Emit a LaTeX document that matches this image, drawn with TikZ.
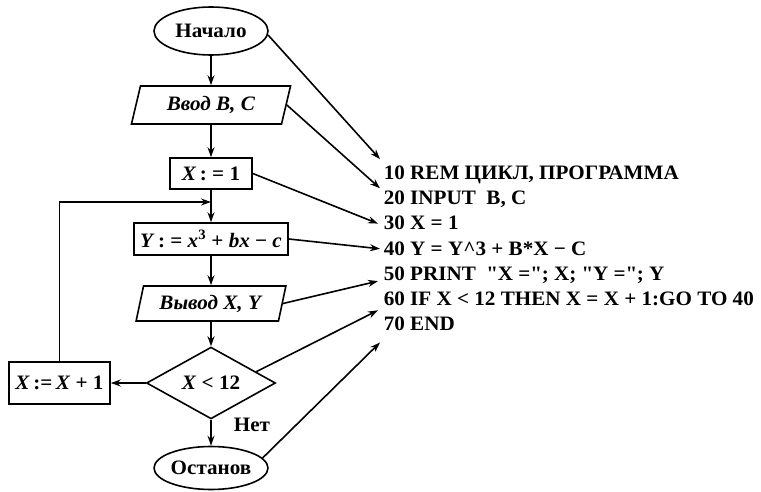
\documentclass[tikz,border=0pt]{standalone}
\usepackage{fontspec}
\setmainfont{Liberation Serif}[FakeStretch=1.03]
\usetikzlibrary{shapes.geometric,arrows.meta,positioning}

\tikzset{
  term/.style={draw, ellipse, inner sep=0pt},
  io/.style={draw, trapezium, trapezium left angle=72, trapezium right angle=108,
             trapezium stretches=true, inner sep=0pt},
  proc/.style={draw, rectangle, inner sep=0pt},
  decision/.style={draw, diamond, inner sep=0pt},
  codeline/.style={anchor=base west, inner sep=0pt, text height=12.6pt, text depth=0pt}
}

\begin{document}
\begin{tikzpicture}[x=1pt, y=-1pt, line width=1.6pt, >={Stealth[length=10pt,width=7pt]},
    font=\fontsize{20.5}{24}\selectfont\bfseries]
    \useasboundingbox (0,0) rectangle (761,492);
    % flowchart
    \node[term, minimum width=114pt, minimum height=48pt] (start) at (211,31) {Начало};
    \node[io, minimum width=160pt, minimum height=38pt] (input) at (211,105) {\textit{Ввод B, C}};
    \node[proc, minimum width=82pt, minimum height=31pt] (init) at (211,173.5) {\textit{X}\,: = 1};
    \node[proc, minimum width=154pt, minimum height=32pt] (calc) at (211,239)
        {\textit{Y}\,: = \textit{x}\textsuperscript{3} + \textit{bx} − \textit{c}};
    \node[io, minimum width=150pt, minimum height=35pt] (output) at (211,303.5) {\textit{Вывод X, Y}};
    \node[decision, minimum width=129pt, minimum height=63pt] (test) at (211,383) {\textit{X} < 12};
    \node[proc, minimum width=101pt, minimum height=42pt] (incr) at (59.5,383) {\textit{X}\,:=\,\textit{X} + 1};
    \node[term, minimum width=110pt, minimum height=43pt] (stop) at (211,468) {Останов};
    \node (no) at (252,425) {Нет};
    \coordinate (loop) at (211,202);

    \draw[->] (start) -- (input);
    \draw[->] (input) -- (init);
    \draw[->] (init) -- (calc);
    \draw[->] (calc) -- (output);
    \draw[->] (output) -- (test);
    \draw[->] (test) -- (stop);
    \draw[->] (test) -- (incr);
    \draw[->] (incr) |- (loop);

    % program text
    \node[codeline] (l10) at (383,179.5) {10 REM ЦИКЛ, ПРОГРАММА};
    \node[codeline] (l20) at (383,204.7) {20 INPUT~~B, C};
    \node[codeline] (l30) at (383,229.9) {30 X = 1};
    \node[codeline] (l40) at (383,255.1) {40 Y = Y\textasciicircum 3 + B*X − C};
    \node[codeline] (l50) at (383,280.3) {50 PRINT~~\textquotedbl X =\textquotedbl; X; \textquotedbl Y =\textquotedbl; Y};
    \node[codeline] (l60) at (383,305.5) {60 IF X < 12 THEN X = X + 1:GO TO 40};
    \node[codeline] (l70) at (383,330.7) {70 END};

    \draw[->] (start.-4) -- ([xshift=-3pt,yshift=7pt]l10.north west);
    \draw[->] (input.east) -- ([xshift=-3pt,yshift=3pt]l20.north west);
    \draw[->] (init.east) -- ([xshift=-5pt]l30.west);
    \draw[->] (calc.east) -- ([xshift=-3pt]l40.west);
    \draw[->] (output.east) -- ([xshift=-5pt]l50.south west);
    \draw[->] (test.14) -- ([xshift=-5pt,yshift=-4pt]l60.south west);
    \draw[->] (stop.11) -- ([xshift=-3pt,yshift=-11pt]l70.south west);
\end{tikzpicture}
\end{document}
